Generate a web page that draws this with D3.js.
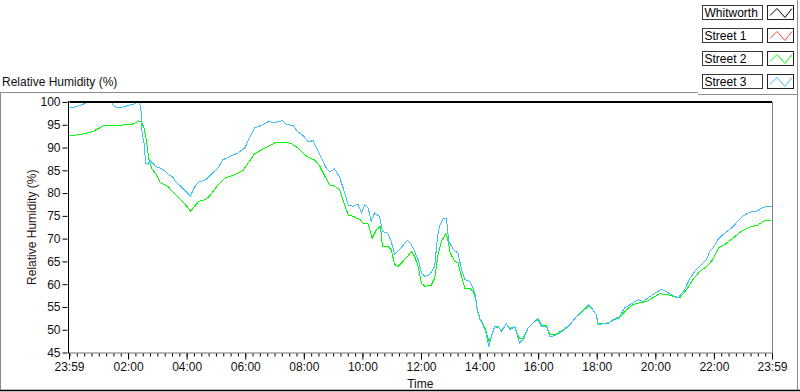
<!DOCTYPE html>
<html>
<head>
<meta charset="utf-8">
<script src="https://cdn.jsdelivr.net/npm/d3@7"></script>
<style>
  body { margin: 0; background: #fff; }
  svg { display: block; font-family: "Liberation Sans", Arial, sans-serif; }
</style>
</head>
<body>
<script>
// minutes since 23:59, relative humidity (%)
const seriesNames = ["Whitworth", "Street 1", "Street 2", "Street 3"];
const seriesColors = ["#000000", "#ff3c3c", "#00ff00", "#40bfff"];

const whitworth = [[0, 100], [1440, 100]];
const street1 = [];
const street2 = [
  [0,92.6],[27,92.9],[48,93.5],[61,94.2],[72,94.9],[96,94.8],[133,95.2],[143,95.9],[149,95.5],[154,94.2],
  [159,91.3],[163,87.7],[169,85.5],[178,84.2],[188,82.2],[202,81.5],[212,80.4],[225,78.9],[239,77.4],[249,76.0],
  [256,77.0],[266,78.2],[280,78.6],[290,79.6],[305,81.8],[319,83.3],[339,84.0],[356,84.9],[367,86.6],[380,88.6],
  [394,89.5],[408,90.2],[421,91.0],[435,91.2],[445,91.2],[456,90.8],[469,89.9],[483,88.4],[493,87.7],[503,87.3],
  [514,85.9],[524,83.7],[534,81.8],[544,81.5],[554,80.8],[562,78.2],[572,75.2],[582,74.9],[589,74.5],[596,74.2],
  [602,73.4],[613,73.2],[621,70.1],[630,72.0],[638,72.7],[642,68.3],[653,68.3],[660,67.6],[667,64.3],[674,63.9],
  [684,65.0],[694,66.1],[701,67.2],[708,66.1],[715,63.9],[722,60.2],[729,59.5],[742,59.8],[749,61.3],[756,66.5],
  [763,69.4],[772,71.2],[776,69.8],[781,66.8],[790,65.0],[797,64.6],[804,61.7],[811,59.1],[821,59.1],[828,58.4],
  [833,56.9],[836,54.6],[842,52.4],[848,51.3],[854,49.8],[860,47.4],[865,48.5],[872,50.7],[879,50.5],[886,49.8],
  [896,51.3],[903,50.2],[913,50.7],[917,49.5],[923,48.0],[930,48.2],[940,50.3],[951,51.6],[961,52.4],[968,50.9],
  [978,50.9],[985,48.9],[995,48.9],[1005,49.5],[1015,50.2],[1026,51.1],[1039,52.8],[1053,54.2],[1065,55.2],[1073,54.4],
  [1080,53.3],[1084,51.3],[1094,51.3],[1104,51.5],[1114,52.0],[1128,52.7],[1142,54.4],[1155,55.5],[1169,55.9],[1183,56.2],
  [1196,57.0],[1210,57.9],[1227,57.7],[1241,57.2],[1251,57.0],[1265,58.8],[1278,61.0],[1292,62.8],[1306,63.9],[1319,65.4],
  [1330,67.9],[1343,68.7],[1360,70.1],[1377,71.6],[1394,72.5],[1411,73.0],[1425,74.0],[1439,74.1]
];
const street3 = [
  [0,98.8],[12,98.9],[26,99.4],[40,100],[63,100],[87,100],[90,99.3],[96,98.9],[110,98.9],[124,99.3],
  [134,99.6],[143,100],[147,99.0],[150,92.8],[154,90.8],[157,86.6],[163,86.3],[165,87.3],[178,85.8],[191,85.3],
  [198,84.7],[205,84.0],[212,83.6],[219,82.4],[229,81.5],[239,80.4],[249,79.3],[253,80.4],[260,81.8],[266,82.4],
  [280,82.9],[290,84.0],[305,85.5],[315,87.3],[333,88.2],[346,88.8],[360,89.9],[370,92.1],[380,94.3],[397,95.0],
  [408,95.7],[421,95.5],[438,95.9],[445,95.1],[459,94.8],[469,93.4],[479,92.7],[490,91.3],[500,91.5],[507,89.9],
  [517,87.7],[527,85.5],[534,84.7],[544,85.3],[554,83.6],[565,80.0],[572,77.4],[582,77.1],[592,77.6],[599,75.6],
  [606,77.4],[613,76.7],[619,73.8],[626,75.6],[636,74.9],[642,71.6],[653,71.2],[660,69.4],[667,66.5],[677,67.6],
  [688,69.0],[694,69.6],[701,68.7],[708,67.2],[715,65.4],[722,62.4],[729,61.7],[739,62.1],[749,63.9],[755,70.5],
  [759,72.7],[766,74.3],[773,74.5],[778,69.4],[787,67.6],[797,66.8],[804,63.2],[811,61.0],[821,60.6],[828,59.1],
  [833,57.3],[836,54.4],[842,52.2],[848,51.1],[854,49.3],[860,46.3],[865,48.5],[872,50.7],[879,50.7],[886,49.6],
  [896,51.3],[903,50.0],[913,50.7],[917,49.3],[923,47.1],[930,47.8],[940,50.3],[951,51.6],[961,52.2],[968,50.7],
  [978,50.7],[985,48.5],[995,48.7],[1005,49.3],[1015,50.0],[1026,51.1],[1039,52.8],[1053,54.4],[1065,55.5],[1073,54.4],
  [1080,53.3],[1084,51.1],[1094,51.3],[1104,51.4],[1114,52.2],[1128,52.9],[1138,54.8],[1149,55.5],[1166,56.6],[1176,56.2],
  [1186,57.0],[1200,58.0],[1214,58.9],[1224,58.3],[1234,57.7],[1248,57.0],[1261,58.8],[1272,61.3],[1282,62.8],[1292,63.9],
  [1306,65.4],[1312,67.2],[1319,67.9],[1330,69.9],[1343,71.2],[1357,72.3],[1370,73.8],[1381,75.0],[1394,75.8],[1408,76.0],
  [1422,76.9],[1439,77.1]
];

const xTickMinutes = [0, 121, 241, 361, 481, 601, 721, 841, 961, 1081, 1201, 1321, 1440];
const xTickLabels = ["23:59", "02:00", "04:00", "06:00", "08:00", "10:00", "12:00",
                     "14:00", "16:00", "18:00", "20:00", "22:00", "23:59"];
const yTicks = [45, 50, 55, 60, 65, 70, 75, 80, 85, 90, 95, 100];

const width = 800, height = 392;
const plot = {left: 68.5, right: 772, top: 102, bottom: 352.5};

const svg = d3.select("body").append("svg")
  .attr("width", width)
  .attr("height", height);

const x = d3.scaleLinear().domain([0, 1440]).range([plot.left + 0.5, plot.right]);
const y = d3.scaleLinear().domain([45, 100]).range([plot.bottom, plot.top]);

// outer frame
svg.append("line").attr("x1", 0).attr("x2", 698).attr("y1", 92.5).attr("y2", 92.5).attr("stroke", "#8c8c8c");
svg.append("line").attr("x1", 698).attr("x2", 798).attr("y1", 94.5).attr("y2", 94.5).attr("stroke", "#8c8c8c");
svg.append("line").attr("x1", 0.5).attr("x2", 0.5).attr("y1", 92).attr("y2", 391).attr("stroke", "#8c8c8c");
svg.append("line").attr("x1", 797.5).attr("x2", 797.5).attr("y1", 0).attr("y2", 391).attr("stroke", "#8c8c8c");
svg.append("line").attr("x1", 0).attr("x2", 800).attr("y1", 390.5).attr("y2", 390.5).attr("stroke", "#000").attr("stroke-width", 1.5);

svg.append("text")
  .attr("x", 2).attr("y", 86)
  .attr("font-size", 12).attr("fill", "#111")
  .text("Relative Humidity (%)");

// plot frame
svg.append("line").attr("x1", plot.right + 0.5).attr("x2", plot.right + 0.5)
  .attr("y1", plot.top).attr("y2", plot.bottom).attr("stroke", "#808080");
svg.append("line").attr("x1", plot.left).attr("x2", plot.right + 1)
  .attr("y1", plot.bottom + 0.5).attr("y2", plot.bottom + 0.5).attr("stroke", "#707070");
svg.append("line").attr("x1", plot.left).attr("x2", plot.left)
  .attr("y1", plot.top - 1).attr("y2", plot.bottom + 1).attr("stroke", "#000");

// y axis
const yAxis = svg.append("g")
  .attr("transform", `translate(${plot.left - 1},0)`)
  .call(d3.axisLeft(y).tickValues(yTicks).tickSize(5).tickPadding(2));
yAxis.select(".domain").remove();
yAxis.selectAll("text").attr("font-size", 12).attr("font-family", null).attr("fill", "#111");
yAxis.selectAll("line").attr("stroke", "#000");

// x axis, minor then major
const minorTicks = d3.range(0, 97).map(i => Math.min(1440, 1 + i * 15));
const xMinor = svg.append("g")
  .attr("transform", `translate(0,${plot.bottom + 1})`)
  .call(d3.axisBottom(x).tickValues(minorTicks).tickSize(3).tickFormat(""));
xMinor.select(".domain").remove();
xMinor.selectAll("line").attr("stroke", "#000");

const xAxis = svg.append("g")
  .attr("transform", `translate(0,${plot.bottom + 1})`)
  .call(d3.axisBottom(x).tickValues(xTickMinutes).tickSize(6).tickPadding(3)
    .tickFormat((d, i) => xTickLabels[i]));
xAxis.select(".domain").remove();
xAxis.selectAll("text").attr("font-size", 12).attr("font-family", null).attr("fill", "#111");
xAxis.selectAll("line").attr("stroke", "#000");

svg.append("text")
  .attr("x", (plot.left + plot.right) / 2).attr("y", 388)
  .attr("text-anchor", "middle").attr("font-size", 12).attr("fill", "#111")
  .text("Time");

svg.append("text")
  .attr("transform", `translate(36,${(plot.top + plot.bottom) / 2}) rotate(-90)`)
  .attr("text-anchor", "middle").attr("font-size", 12).attr("fill", "#2a1212")
  .text("Relative Humidity (%)");

// lines
svg.append("clipPath").attr("id", "clip")
  .append("rect").attr("x", plot.left + 1).attr("y", plot.top - 2)
  .attr("width", plot.right - plot.left).attr("height", plot.bottom - plot.top + 2);

const line = d3.line().x(d => x(d[0])).y(d => y(d[1]));
const g = svg.append("g").attr("clip-path", "url(#clip)");

const drawOrder = [
  {data: street1, color: seriesColors[1], w: 1},
  {data: street2, color: seriesColors[2], w: 1},
  {data: street3, color: seriesColors[3], w: 1},
  {data: whitworth, color: seriesColors[0], w: 2.5}
];
drawOrder.forEach(s => {
  if (!s.data.length) return;
  g.append("path")
    .attr("d", line(s.data))
    .attr("fill", "none")
    .attr("stroke", s.color)
    .attr("stroke-width", s.w)
    .attr("shape-rendering", "crispEdges");
});

// legend
const legend = svg.append("g");
seriesNames.forEach((name, i) => {
  const top = 4.5 + i * 23.33;
  const row = legend.append("g").attr("transform", `translate(0,${Math.round(top) + 0.5})`);
  row.append("rect").attr("x", 702.5).attr("y", 0).attr("width", 60).attr("height", 14)
    .attr("fill", "#fff").attr("stroke", "#3a3a3a");
  row.append("text").attr("x", 704.5).attr("y", 11.5).attr("font-size", 12).attr("fill", "#000")
    .text(name);
  row.append("rect").attr("x", 767.5).attr("y", 0).attr("width", 26).attr("height", 14)
    .attr("fill", "#fff").attr("stroke", "#222");
  row.append("polyline")
    .attr("points", "770,10 777,3 785,12 792,3")
    .attr("fill", "none").attr("stroke", seriesColors[i]).attr("stroke-width", 1);
});
</script>
</body>
</html>
